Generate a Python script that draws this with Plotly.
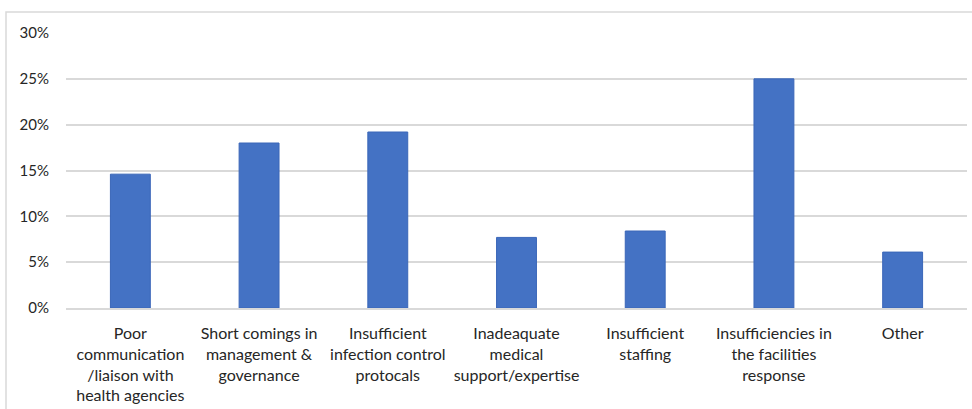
import plotly.graph_objects as go

categories = [
    "Poor<br>communication<br>/liaison with<br>health agencies",
    "Short comings in<br>management &<br>governance",
    "Insufficient<br>infection control<br>protocals",
    "Inadeaquate<br>medical<br>support/expertise",
    "Insufficient<br>staffing",
    "Insufficiencies in<br>the facilities<br>response",
    "Other",
]
values = [0.146, 0.180, 0.192, 0.077, 0.084, 0.250, 0.061]
y_ticks = [0, 0.05, 0.10, 0.15, 0.20, 0.25, 0.30]
y_tick_labels = ["0%", "5%", "10%", "15%", "20%", "25%", "30%"]

fig = go.Figure(
    go.Bar(
        x=categories,
        y=values,
        marker=dict(color="#4472C4", line=dict(color="#3a66b8", width=1)),
    )
)

font_family = "Lato, 'Open Sans', sans-serif"

fig.update_layout(
    width=972,
    height=409,
    margin=dict(l=66, r=5, t=33, b=101),
    paper_bgcolor="white",
    plot_bgcolor="white",
    bargap=0.69,
    showlegend=False,
    font=dict(family=font_family, size=15, color="#262626"),
    shapes=[
        dict(
            type="rect", xref="paper", yref="paper",
            x0=-0.0666, x1=1.2, y0=-0.6, y1=1.0764,
            line=dict(color="#d9d9d9", width=1.5), fillcolor="rgba(0,0,0,0)",
            layer="below",
        )
    ],
)

fig.update_xaxes(
    automargin=False,
    showgrid=False,
    showline=True,
    linecolor="#d9d9d9",
    linewidth=1.5,
    ticks="",
    tickangle=0,
    ticklabelstandoff=10,
    tickfont=dict(size=16, color="#262626"),
)

fig.update_yaxes(
    automargin=False,
    range=[0, 0.30],
    tickvals=y_ticks,
    ticktext=y_tick_labels,
    showgrid=True,
    gridcolor="#d9d9d9",
    gridwidth=1.5,
    zeroline=False,
    showline=False,
    ticks="",
    ticklabelstandoff=16,
    tickfont=dict(size=15, color="#262626"),
)

fig.write_html("out.html")
